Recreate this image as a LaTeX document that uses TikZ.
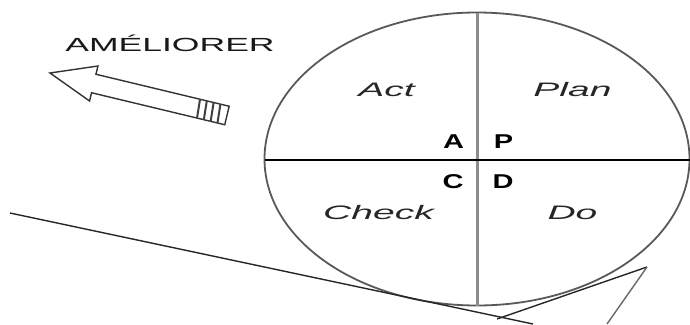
\documentclass[tikz,border=0pt]{standalone}
\usepackage{fontspec}
\setmainfont{Liberation Sans}
\begin{document}
\begin{tikzpicture}[x=1pt,y=-1pt,
  lab/.style={anchor=base,inner sep=0pt,font=\fontsize{19.5}{19.5}\selectfont\itshape,text=black!85},
  letter/.style={anchor=base,inner sep=0pt,font=\fontsize{20}{20}\selectfont\bfseries,text=black},
  title/.style={anchor=base,inner sep=0pt,font=\fontsize{19}{19}\selectfont,text=black!90},
  wheel/.style={draw=black!65,line width=1.8pt},
  axisv/.style={draw=black!45,line width=3pt},
  axish/.style={draw=black,line width=2pt},
  slope/.style={draw=black!85,line width=1.4pt},
  outline/.style={draw=black!80,line width=1.4pt,line join=miter}]
\useasboundingbox (0,0) rectangle (690,324);
% wheel
\draw[wheel] (477,159) ellipse [x radius=212.5, y radius=146.5];
\coordinate (top) at (477,12.5);
\coordinate (bot) at (477,305.5);
\coordinate (left) at (265,160);
\coordinate (right) at (690,160);
\draw[axisv] (top) -- (bot);
\draw[axish] (left) -- (right);
% slope and wedge
\coordinate (s1) at (10,213);
\coordinate (s2) at (533,324);
\draw[slope] (s1) -- (s2);
\coordinate (w1) at (497,319);
\coordinate (w2) at (647,267);
\coordinate (w3) at (607,324);
\draw[slope] (w1) -- (w2);
\draw[slope,draw=black!60] (w2) -- (w3);
% labels
\node[lab] (act) at (386.5,96) {\scalebox{2}[1]{Act}};
\node[lab] (plan) at (572.5,96) {\scalebox{2}[1]{Plan}};
\node[lab] (check) at (378.5,219) {\scalebox{2}[1]{Check}};
\node[lab] (do) at (572.5,219) {\scalebox{2}[1]{Do}};
\node[letter] (a) at (453.5,148) {\scalebox{1.45}[1]{A}};
\node[letter] (p) at (503.5,148) {\scalebox{1.45}[1]{P}};
\node[letter] (c) at (453,188) {\scalebox{1.45}[1]{C}};
\node[letter] (d) at (503,188) {\scalebox{1.45}[1]{D}};
\node[title] (ameliorer) at (170,51) {\scalebox{1.87}[1]{AMÉLIORER}};
% open arrow
\begin{scope}[shift={(50,73)},rotate=-13.5]
\draw[outline,fill=white] (0,0) -- (45,-18) -- (45,-9.5) -- (182,-9.5) -- (182,9.5) -- (45,9.5) -- (45,18) -- cycle;
\foreach \u in {152,159,166,173} \draw[black!75,line width=2pt] (\u,-9.5) -- (\u+1.5,9.5);
\end{scope}
\end{tikzpicture}
\end{document}
